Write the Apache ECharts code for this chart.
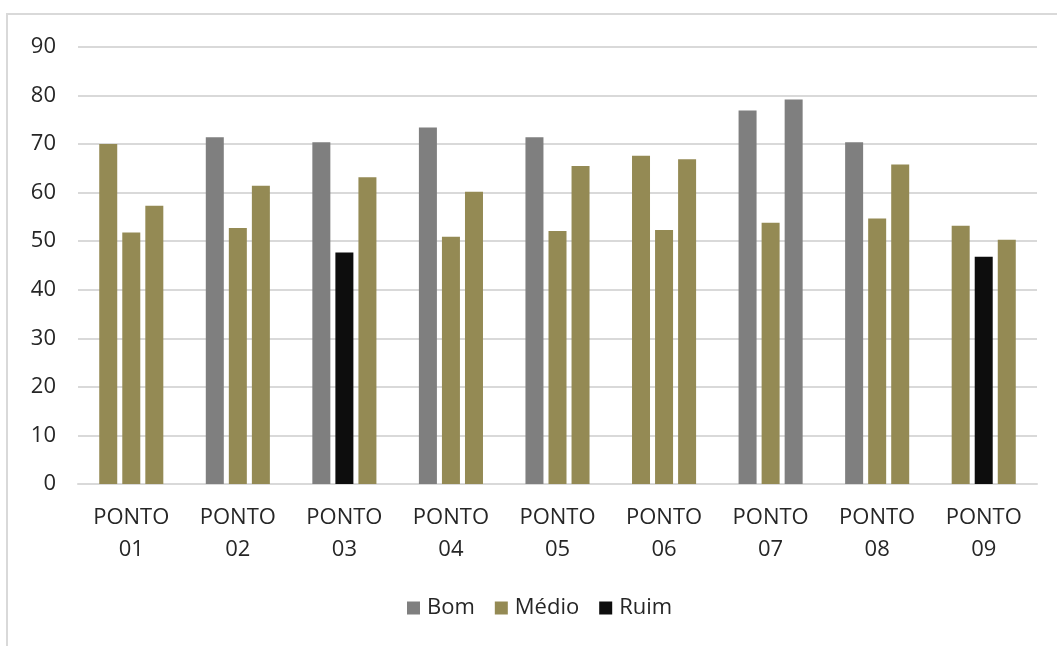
<!DOCTYPE html>
<html>
<head>
<meta charset="utf-8">
<script src="https://cdn.jsdelivr.net/npm/echarts@6/dist/echarts.min.js"></script>
<style>
  html, body { margin: 0; padding: 0; background: #fff; }
  #chart { width: 1057px; height: 646px; }
</style>
</head>
<body>
<div id="chart"></div>
<script>
// Pontos de amostragem
const categorias = ['PONTO 01', 'PONTO 02', 'PONTO 03', 'PONTO 04', 'PONTO 05', 'PONTO 06', 'PONTO 07', 'PONTO 08', 'PONTO 09'];

// Três campanhas por ponto (valor do índice)
const campanha1 = [70.0, 71.4, 70.4, 73.4, 71.4, 67.6, 76.9, 70.4, 53.2];
const campanha2 = [51.8, 52.7, 47.7, 50.9, 52.1, 52.3, 53.8, 54.7, 46.8];
const campanha3 = [57.3, 61.4, 63.2, 60.2, 65.5, 66.9, 79.2, 65.8, 50.3];

// Classificação de cada valor
const classe1 = ['Médio', 'Bom', 'Bom', 'Bom', 'Bom', 'Médio', 'Bom', 'Bom', 'Médio'];
const classe2 = ['Médio', 'Médio', 'Ruim', 'Médio', 'Médio', 'Médio', 'Médio', 'Médio', 'Ruim'];
const classe3 = ['Médio', 'Médio', 'Médio', 'Médio', 'Médio', 'Médio', 'Bom', 'Médio', 'Médio'];

const classes = ['Bom', 'Médio', 'Ruim'];
const coresClasse = { 'Bom': '#7f7f7f', 'Médio': '#948a54', 'Ruim': '#0d0d0d' };

const eixoY = { min: 0, max: 90, interval: 10 };

const fonte = '"Open Sans", "Noto Sans", sans-serif';
const corTexto = '#262626';
const corGrade = '#d9d9d9';

function serieBarra(nome, valores, classesSerie) {
  return {
    name: nome,
    type: 'bar',
    barWidth: 18,
    barGap: '28%',
    data: valores.map((v, i) => ({
      value: v,
      itemStyle: { color: coresClasse[classesSerie[i]] }
    }))
  };
}

// Séries vazias usadas apenas para a legenda de classes
const seriesLegenda = classes.map(c => ({
  name: c,
  type: 'scatter',
  data: [],
  itemStyle: { color: coresClasse[c], opacity: 1 }
}));

const chart = echarts.init(document.getElementById('chart'), null, { renderer: 'canvas' });

chart.setOption({
  animation: false,
  backgroundColor: '#ffffff',
  graphic: [{
    type: 'rect',
    silent: true,
    shape: { x: 7, y: 14, width: 1200, height: 800 },
    style: { fill: 'none', stroke: corGrade, lineWidth: 2 }
  }],
  grid: { left: 78, right: 20, top: 47, bottom: 162 },
  legend: {
    data: classes,
    bottom: 22,
    left: 402,
    icon: 'rect',
    itemWidth: 13,
    itemHeight: 13,
    itemGap: 20,
    selectedMode: false,
    textStyle: { fontFamily: fonte, fontSize: 22, color: corTexto, padding: [0, 0, 0, 2] }
  },
  xAxis: {
    type: 'category',
    data: categorias,
    axisTick: { show: false },
    axisLine: { show: true, lineStyle: { color: corGrade, width: 2 } },
    axisLabel: {
      fontFamily: fonte,
      fontSize: 22,
      color: corTexto,
      lineHeight: 32,
      margin: 18,
      interval: 0,
      formatter: v => v.replace(' ', '\n')
    }
  },
  yAxis: {
    type: 'value',
    min: eixoY.min,
    max: eixoY.max,
    interval: eixoY.interval,
    axisLine: { show: false },
    axisTick: { show: false },
    splitLine: { lineStyle: { color: corGrade, width: 2 } },
    axisLabel: { fontFamily: fonte, fontSize: 22, color: corTexto, margin: 22 }
  },
  series: [
    serieBarra('Campanha 1', campanha1, classe1),
    serieBarra('Campanha 2', campanha2, classe2),
    serieBarra('Campanha 3', campanha3, classe3),
    ...seriesLegenda
  ]
});
</script>
</body>
</html>
